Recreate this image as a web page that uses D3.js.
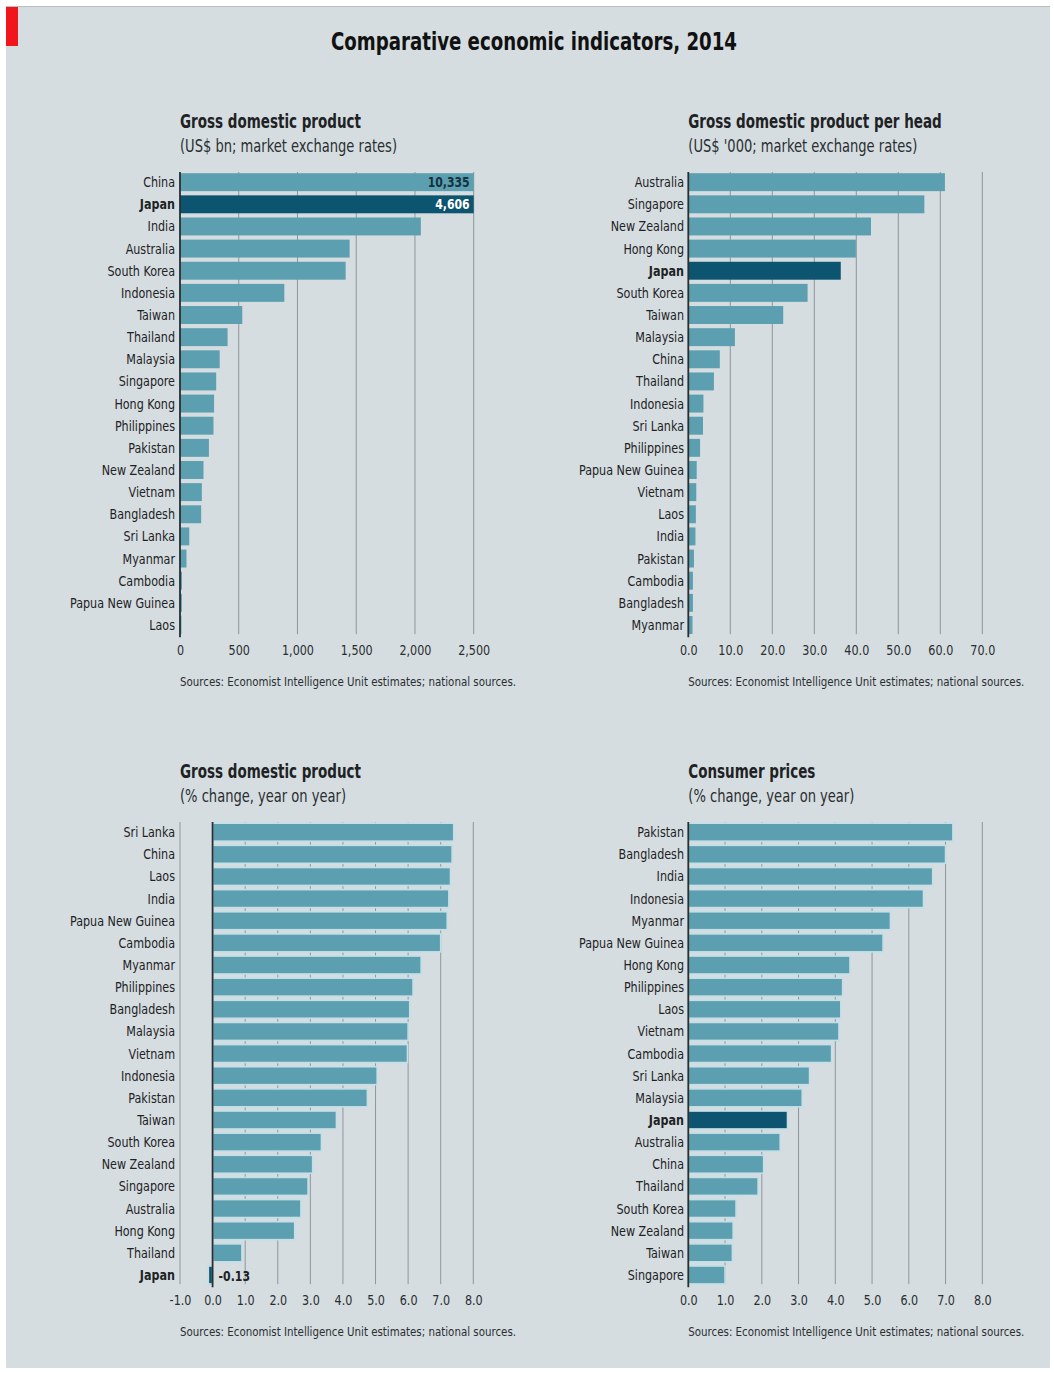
<!DOCTYPE html>
<html>
<head>
<meta charset="utf-8">
<script src="https://cdn.jsdelivr.net/npm/d3@7"></script>
<style>
  body { margin: 0; background: #fff; }
  svg text { font-family: "DejaVu Sans", sans-serif; font-stretch: condensed; }
</style>
</head>
<body>
<svg id="chart" width="1054" height="1373"></svg>
<script>
// ---- data ----
const gdpCountries = ["China","Japan","India","Australia","South Korea","Indonesia","Taiwan","Thailand","Malaysia","Singapore","Hong Kong","Philippines","Pakistan","New Zealand","Vietnam","Bangladesh","Sri Lanka","Myanmar","Cambodia","Papua New Guinea","Laos"];
const gdpValues = [10335,4606,2050,1444,1410,888,530,405,338,308,290,285,246,200,186,180,79,55,17,16,12];
const gdpTicks = [0,500,1000,1500,2000,2500];

const perHeadCountries = ["Australia","Singapore","New Zealand","Hong Kong","Japan","South Korea","Taiwan","Malaysia","China","Thailand","Indonesia","Sri Lanka","Philippines","Papua New Guinea","Vietnam","Laos","India","Pakistan","Cambodia","Bangladesh","Myanmar"];
const perHeadValues = [61.1,56.2,43.5,39.9,36.3,28.4,22.6,11.1,7.5,6.1,3.6,3.5,2.8,2.0,1.9,1.8,1.7,1.35,1.1,1.1,1.0];
const perHeadTicks = [0,10,20,30,40,50,60,70];

const growthCountries = ["Sri Lanka","China","Laos","India","Papua New Guinea","Cambodia","Myanmar","Philippines","Bangladesh","Malaysia","Vietnam","Indonesia","Pakistan","Taiwan","South Korea","New Zealand","Singapore","Australia","Hong Kong","Thailand","Japan"];
const growthValues = [7.4,7.35,7.3,7.25,7.2,7.0,6.4,6.15,6.05,6.0,5.98,5.05,4.75,3.8,3.34,3.07,2.93,2.71,2.52,0.9,-0.13];
const growthTicks = [-1,0,1,2,3,4,5,6,7,8];

const cpiCountries = ["Pakistan","Bangladesh","India","Indonesia","Myanmar","Papua New Guinea","Hong Kong","Philippines","Laos","Vietnam","Cambodia","Sri Lanka","Malaysia","Japan","Australia","China","Thailand","South Korea","New Zealand","Taiwan","Singapore"];
const cpiValues = [7.2,7.0,6.65,6.4,5.5,5.3,4.4,4.2,4.15,4.1,3.9,3.3,3.1,2.7,2.5,2.05,1.9,1.3,1.22,1.2,1.0];
const cpiTicks = [0,1,2,3,4,5,6,7,8];

const source = "Sources: Economist Intelligence Unit estimates; national sources.";

const bg = "#d5dde0", barColor = "#5c9fb0", japanColor = "#0d5470",
      gridColor = "#8d979b", axisColor = "#2a2f31", textColor = "#1e2224";

const svg = d3.select("#chart");

// squeeze text horizontally so a sample string hits the width seen in the picture
function squeeze(sel, sampleText, targetWidth) {
  const probe = svg.append("text")
    .attr("font-size", sel.attr("font-size"))
    .attr("font-weight", sel.attr("font-weight") || "normal")
    .text(sampleText);
  const k = targetWidth / probe.node().getComputedTextLength();
  probe.remove();
  sel.each(function() {
    const w = this.getComputedTextLength();
    d3.select(this).attr("textLength", w * k).attr("lengthAdjust", "spacingAndGlyphs");
  });
}

// frame
svg.append("rect").attr("x", 6).attr("y", 6).attr("width", 1044).attr("height", 1362).attr("fill", bg);
svg.append("line").attr("x1", 6).attr("x2", 1050).attr("y1", 6.5).attr("y2", 6.5).attr("stroke", "#b9bec0");
svg.append("rect").attr("x", 6).attr("y", 7).attr("width", 12).attr("height", 39).attr("fill", "#f0161c");

const mainTitle = svg.append("text")
  .attr("x", 331).attr("y", 50)
  .attr("font-size", 24).attr("font-weight", "bold")
  .attr("fill", "#111")
  .text("Comparative economic indicators, 2014");
squeeze(mainTitle, "Comparative economic indicators, 2014", 406);

const fmtMinus = f => (d => f(d).replace("\u2212", "-"));

function panel(opts) {
  const g = svg.append("g");
  const data = opts.countries.map((c, i) => ({ label: c, value: opts.values[i] }));

  const x = d3.scaleLinear().domain(opts.domain).range(opts.xRange);
  const y = d3.scaleBand().domain(opts.countries)
    .range([opts.top, opts.top + opts.countries.length * 22.15])
    .paddingInner(0.19).paddingOuter(0.1);
  const bottom = opts.top + opts.countries.length * 22.15;
  const left = opts.xRange[0];

  const t = g.append("text").attr("x", left).attr("y", opts.top - 43)
    .attr("font-size", 19).attr("font-weight", "bold").attr("fill", textColor).text(opts.title);
  squeeze(t, "Gross domestic product", 181);
  const st = g.append("text").attr("x", left).attr("y", opts.top - 19)
    .attr("font-size", 17).attr("fill", "#2a2e30").text(opts.subtitle);
  squeeze(st, "(US$ bn; market exchange rates)", 217);

  // gridlines
  g.selectAll(".grid").data(opts.ticks.filter(v => v !== 0)).enter().append("line")
    .attr("x1", d => x(d)).attr("x2", d => x(d))
    .attr("y1", opts.top + 1).attr("y2", bottom - 2)
    .attr("stroke", gridColor).attr("stroke-width", 1);

  const clip = opts.domain[1];
  g.selectAll(".bar").data(data).enter().append("rect")
    .attr("x", d => x(Math.min(0, d.value)))
    .attr("y", d => y(d.label))
    .attr("width", d => Math.abs(x(Math.min(d.value, clip)) - x(0)))
    .attr("height", y.bandwidth())
    .attr("fill", d => d.label === "Japan" ? japanColor : barColor)
    .attr("stroke", opts.halo ? "#c3dfe7" : "none")
    .attr("stroke-width", opts.halo ? 1.6 : 0);

  // zero axis
  g.append("line").attr("x1", x(0)).attr("x2", x(0))
    .attr("y1", opts.top + 1).attr("y2", bottom + 1)
    .attr("stroke", axisColor).attr("stroke-width", 1.8);

  // category labels
  const cats = g.selectAll(".cat").data(data).enter().append("text")
    .attr("x", opts.labelX)
    .attr("y", d => y(d.label) + y.bandwidth() / 2 + 5)
    .attr("text-anchor", "end")
    .attr("font-size", 14)
    .attr("font-weight", d => d.label === "Japan" ? "bold" : "normal")
    .attr("fill", textColor)
    .text(d => d.label);
  squeeze(cats, "Papua New Guinea", 105);

  // value labels for clipped / negative bars
  data.forEach(d => {
    let lab;
    if (d.value > clip) {
      lab = g.append("text").attr("x", x(clip) - 4).attr("y", y(d.label) + y.bandwidth() / 2 + 5)
        .attr("text-anchor", "end").attr("font-size", 14).attr("font-weight", "bold")
        .attr("fill", d.label === "Japan" ? "#fff" : "#14323e")
        .text(d3.format(",")(d.value));
    } else if (d.value < 0) {
      lab = g.append("text").attr("x", x(0) + 6).attr("y", y(d.label) + y.bandwidth() / 2 + 6)
        .attr("font-size", 14).attr("font-weight", "bold").attr("fill", textColor)
        .text(d.value.toFixed(2));
    }
    if (lab) squeeze(lab, "10,335", 42);
  });

  // tick labels
  const axis = d3.axisBottom(x).tickValues(opts.ticks).tickFormat(fmtMinus(opts.format)).tickSize(0).tickPadding(0);
  const ax = g.append("g").attr("transform", `translate(0,${bottom + 9})`).call(axis);
  ax.select(".domain").remove();
  ax.attr("font-family", null).attr("font-size", null);
  const tl = ax.selectAll("text").attr("font-size", 14).attr("fill", "#2a2e30");
  squeeze(tl, "1,000", 32);

  const src = g.append("text").attr("x", left).attr("y", bottom + 50)
    .attr("font-size", 11.5).attr("fill", "#2a2e30").text(source);
  squeeze(src, source, 336);
}

panel({
  title: "Gross domestic product", subtitle: "(US$ bn; market exchange rates)",
  countries: gdpCountries, values: gdpValues, ticks: gdpTicks,
  domain: [0, 2500], xRange: [180, 473.7], top: 171, labelX: 175,
  format: d3.format(",")
});
panel({
  title: "Gross domestic product per head", subtitle: "(US$ '000; market exchange rates)",
  countries: perHeadCountries, values: perHeadValues, ticks: perHeadTicks,
  domain: [0, 70], xRange: [688.3, 982.3], top: 171, labelX: 684,
  format: d3.format(".1f")
});
panel({
  title: "Gross domestic product", subtitle: "(% change, year on year)",
  countries: growthCountries, values: growthValues, ticks: growthTicks,
  domain: [-1, 8], xRange: [180, 473.3], top: 821, labelX: 175,
  format: d3.format(".1f"), halo: true
});
panel({
  title: "Consumer prices", subtitle: "(% change, year on year)",
  countries: cpiCountries, values: cpiValues, ticks: cpiTicks,
  domain: [0, 8], xRange: [688.3, 982.3], top: 821, labelX: 684,
  format: d3.format(".1f"), halo: true
});
</script>
</body>
</html>
